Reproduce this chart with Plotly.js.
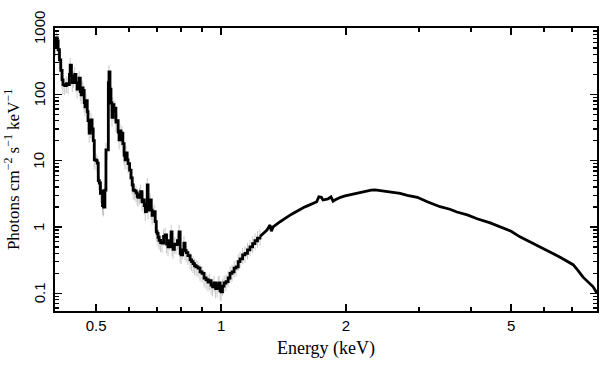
<!DOCTYPE html>
<html>
<head>
<meta charset="utf-8">
<script src="https://cdn.plot.ly/plotly-3.0.1.min.js"></script>
<style>html,body{margin:0;padding:0;background:#fff;}#chart{width:609px;height:373px;}</style>
</head>
<body>
<div id="chart"></div>
<script>
// Energy (keV) and flux (photons cm^-2 s^-1 keV^-1)
const energyLow = [0.399,0.401,0.403,0.405,0.408,0.411,0.414,0.416,0.420,0.424,0.428,0.431,0.433,0.436,0.438,0.441,0.444,0.447,0.450,0.453,0.455,0.458,0.460,0.463,0.465,0.468,0.470,0.473,0.476,0.478,0.481,0.484,0.486,0.489,0.492,0.495,0.500,0.503,0.506,0.509,0.512,0.515,0.518,0.521,0.525,0.528,0.532,0.535,0.537,0.540,0.543,0.546,0.549,0.552,0.555,0.558,0.561,0.565,0.568,0.571,0.574,0.577,0.580,0.584,0.587,0.590,0.594,0.597,0.602,0.607,0.611,0.614,0.619,0.624,0.628,0.631,0.636,0.640,0.645,0.649,0.653,0.657,0.661,0.664,0.667,0.671,0.675,0.679,0.682,0.686,0.690,0.694,0.698,0.701,0.705,0.709,0.715,0.721,0.727,0.733,0.739,0.745,0.751,0.758,0.762,0.766,0.772,0.779,0.785,0.792,0.797,0.801,0.808,0.814,0.819,0.824,0.832,0.842,0.849,0.856,0.863,0.871,0.880,0.890,0.900,0.910,0.920,0.930,0.938,0.946,0.954,0.962,0.970,0.978,0.984,0.989,0.995,1.000,1.008,1.017,1.028,1.040,1.051,1.063,1.075,1.087,1.100,1.111,1.127,1.142,1.158,1.174,1.191,1.207,1.224,1.241];
const fluxLow = [520,710,640,470,330,230,165,140,135,145,140,200,275,190,150,175,200,150,120,150,175,110,98,125,115,75,65,80,55,40,26,30,41,30,20,10.3,10.0,9.2,5.0,4.6,3.2,3.5,2.1,2.0,3.6,14.5,14.5,150,217,120,74,45,70,55,62,38,40,27,20.5,28,22.8,26,18,12,10.3,13.1,10.3,9.0,7.2,5.5,4.3,3.6,3.5,3.26,2.9,2.8,3.04,3.4,2.4,2.55,2.1,1.7,2.2,4.3,1.8,2.3,2.55,1.8,1.5,1.6,1.7,1.2,0.85,0.80,0.70,0.63,0.58,0.57,0.72,0.76,0.55,0.50,0.62,0.84,0.50,0.46,0.55,0.54,0.62,0.84,0.40,0.38,0.45,0.57,0.44,0.41,0.37,0.32,0.30,0.28,0.26,0.25,0.24,0.21,0.20,0.17,0.16,0.148,0.155,0.133,0.125,0.143,0.118,0.120,0.140,0.143,0.110,0.105,0.128,0.143,0.150,0.17,0.20,0.21,0.24,0.25,0.30,0.33,0.38,0.40,0.45,0.50,0.56,0.62,0.68,0.72];
const energyHigh = [1.241,1.265,1.290,1.312,1.322,1.335,1.360,1.388,1.415,1.442,1.470,1.490,1.520,1.550,1.585,1.620,1.660,1.700,1.720,1.745,1.760,1.785,1.810,1.840,1.862,1.880,1.910,1.940,1.990,2.040,2.080,2.120,2.160,2.210,2.250,2.300,2.350,2.400,2.460,2.550,2.650,2.700,2.810,2.970,3.140,3.240,3.370,3.560,3.700,3.920,4.140,4.450,4.700,5.000,5.250,5.550,5.870,6.200,6.560,7.050,7.250,7.450,7.880,8.050];
const fluxHigh = [0.72,0.80,0.90,1.07,0.86,1.00,1.10,1.20,1.30,1.42,1.52,1.60,1.72,1.85,1.98,2.10,2.25,2.40,2.85,2.80,2.55,2.60,2.65,2.85,2.45,2.55,2.70,2.80,2.95,3.05,3.15,3.25,3.35,3.45,3.55,3.60,3.62,3.55,3.50,3.40,3.25,3.20,3.00,2.80,2.40,2.20,2.02,1.85,1.68,1.52,1.33,1.15,1.00,0.86,0.71,0.60,0.50,0.42,0.35,0.27,0.22,0.175,0.125,0.10];
const xTickVals = [0.5,1,2,5];
const xTickText = ['0.5','1','2','5'];
const xMinorVals = [0.6,0.7,0.8,0.9,3,4,6,7];
const yTickVals = [0.1,1,10,100,1000];
const yTickText = ['0.1','1','10','100','1000'];
const yMinorVals = [0.06,0.07,0.08,0.09,0.2,0.3,0.4,0.5,0.6,0.7,0.8,0.9,2,3,4,5,6,7,8,9,20,30,40,50,60,70,80,90,200,300,400,500,600,700,800,900];

const traces = [
  {x: energyLow, y: fluxLow, type: 'scatter', mode: 'markers',
   marker: {size: 0.1, color: 'rgba(0,0,0,0)'},
   error_y: {type: 'percent', value: 28, color: '#c8c8c8', thickness: 1, width: 0},
   hoverinfo: 'skip', showlegend: false},
  {x: energyLow, y: fluxLow, type: 'scatter', mode: 'lines',
   line: {color: '#000', width: 2.8, shape: 'hv'}, showlegend: false},
  {x: energyHigh, y: fluxHigh, type: 'scatter', mode: 'lines',
   line: {color: '#000', width: 2.8, shape: 'linear'}, showlegend: false}
];

// rotated y tick labels, placed at the tick values
const yLabelAnnotations = yTickVals.map((v, i) => ({
  xref: 'paper', yref: 'y', x: 0, y: Math.log10(v), xshift: -16,
  text: yTickText[i], textangle: -90, showarrow: false,
  xanchor: 'center', yanchor: 'middle',
  font: {family: '"Liberation Sans", Arial, sans-serif', size: 15, color: '#000'}
}));

const layout = {
  width: 609, height: 373,
  margin: {l: 55, r: 12, t: 28, b: 62},
  paper_bgcolor: '#fff', plot_bgcolor: '#fff',
  showlegend: false,
  font: {family: '"Liberation Sans", Arial, sans-serif', size: 15, color: '#000'},
  annotations: yLabelAnnotations,
  xaxis: {
    type: 'log', range: [Math.log10(0.398), Math.log10(8.05)],
    tickmode: 'array', tickvals: xTickVals, ticktext: xTickText,
    ticks: 'inside', ticklen: 7, tickwidth: 1.5, tickcolor: '#000',
    minor: {tickmode: 'array', tickvals: xMinorVals, ticks: 'inside', ticklen: 4, tickwidth: 1.5, tickcolor: '#000', showgrid: false},
    showline: true, linecolor: '#000', linewidth: 2, mirror: 'ticks',
    showgrid: false, zeroline: false,
    tickfont: {family: '"Liberation Sans", Arial, sans-serif', size: 15},
    title: {text: 'Energy (keV)', font: {family: '"Liberation Serif", "Times New Roman", serif', size: 18}, standoff: 8}
  },
  yaxis: {
    type: 'log', range: [-1.267, 3.0],
    tickmode: 'array', tickvals: yTickVals, showticklabels: false,
    ticks: 'inside', ticklen: 7, tickwidth: 1.5, tickcolor: '#000',
    minor: {tickmode: 'array', tickvals: yMinorVals, ticks: 'inside', ticklen: 4, tickwidth: 1.5, tickcolor: '#000', showgrid: false},
    showline: true, linecolor: '#000', linewidth: 2, mirror: 'ticks',
    showgrid: false, zeroline: false,
    title: {text: 'Photons cm<sup>−2</sup> s<sup>−1</sup> keV<sup>−1</sup>', font: {family: '"Liberation Serif", "Times New Roman", serif', size: 17}, standoff: 29}
  }
};

Plotly.newPlot('chart', traces, layout, {staticPlot: true, displayModeBar: false});
</script>
</body>
</html>
